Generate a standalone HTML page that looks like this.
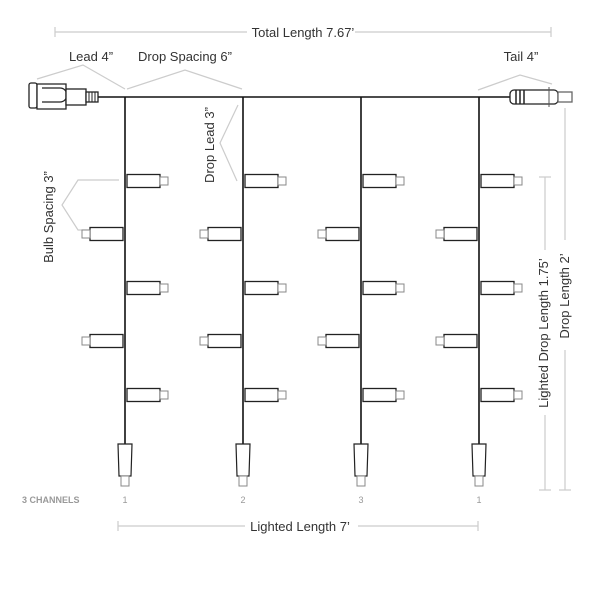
<!DOCTYPE html>
<html><head><style>body{margin:0;background:#fff}svg{display:block}</style></head><body>
<svg width="600" height="600" viewBox="0 0 600 600" xmlns="http://www.w3.org/2000/svg" font-family="Liberation Sans, sans-serif">
<defs>
<g id="br"><rect x="2" y="-6.5" width="33" height="13" fill="#fff" stroke="#222" stroke-width="1.3"/><rect x="35" y="-4" width="8" height="8" fill="#fff" stroke="#888" stroke-width="1"/></g>
<g id="bl"><rect x="-35" y="-6.5" width="33" height="13" fill="#fff" stroke="#222" stroke-width="1.3"/><rect x="-43" y="-4" width="8" height="8" fill="#fff" stroke="#888" stroke-width="1"/></g>
<g id="drop">
<line x1="0" y1="97" x2="0" y2="444" stroke="#111" stroke-width="1.6"/>
<use href="#br" y="181"/><use href="#bl" y="234"/><use href="#br" y="288"/><use href="#bl" y="341"/><use href="#br" y="395"/>
<path d="M-7 444 H7 L6 476 H-6 Z" fill="#fff" stroke="#222" stroke-width="1.2"/>
<rect x="-4" y="476" width="8" height="10" fill="#fff" stroke="#888"/>
</g>
</defs>
<g stroke="#ccc" stroke-width="1.2" fill="none">
<line x1="55" y1="32" x2="247" y2="32"/><line x1="355" y1="32" x2="551" y2="32"/>
<line x1="55" y1="27" x2="55" y2="37"/><line x1="551" y1="27" x2="551" y2="37"/>
<polyline points="37,79 83,65 125,89"/>
<polyline points="127,89 185,70 242,89"/>
<polyline points="478,90 520,75 552,84"/>
<polyline points="238,105 220,143 237,181"/>
<polyline points="119,180 78,180 62,205 78,230 119,230"/>
<line x1="545" y1="177" x2="545" y2="250"/><line x1="545" y1="415" x2="545" y2="490"/>
<line x1="539" y1="177" x2="551" y2="177"/><line x1="539" y1="490" x2="551" y2="490"/>
<line x1="565" y1="108" x2="565" y2="240"/><line x1="565" y1="350" x2="565" y2="490"/>
<line x1="559" y1="490" x2="571" y2="490"/>
<line x1="118" y1="526" x2="245" y2="526"/><line x1="358" y1="526" x2="478" y2="526"/>
<line x1="118" y1="521" x2="118" y2="531"/><line x1="478" y1="521" x2="478" y2="531"/>
</g>
<line x1="98" y1="97" x2="512" y2="97" stroke="#111" stroke-width="1.6"/>
<use href="#drop" x="125"/><use href="#drop" x="243"/><use href="#drop" x="361"/><use href="#drop" x="479"/>
<!-- left plug -->
<g fill="#fff" stroke="#222" stroke-width="1.3">
<rect x="29" y="83" width="8" height="25" rx="2"/>
<path d="M37 85 H66 V110 H37 Z" transform="translate(0,-1)"/>
<path d="M42 88 H60 A7 7 0 0 1 60 102 H42" fill="none"/>
<rect x="66" y="89" width="20" height="16"/>
<rect x="86" y="92" width="12" height="10"/>
</g>
<g stroke="#222" stroke-width="1"><line x1="89" y1="92" x2="89" y2="102"/><line x1="92" y1="92" x2="92" y2="102"/><line x1="95" y1="92" x2="95" y2="102"/></g>
<!-- right plug -->
<g fill="#fff" stroke="#222" stroke-width="1.3">
<rect x="510" y="90" width="48" height="14" rx="4"/>
<rect x="558" y="92" width="14" height="10" stroke="#666"/>
</g>
<g stroke="#222" stroke-width="1.5"><line x1="516" y1="90" x2="516" y2="104"/><line x1="520" y1="90" x2="520" y2="104"/><line x1="524" y1="90" x2="524" y2="104"/></g>
<line x1="549" y1="87" x2="549" y2="107" stroke="#555"/>
<g fill="#333" font-size="13">
<text x="303" y="37" text-anchor="middle">Total Length 7.67’</text>
<text x="91" y="61" text-anchor="middle">Lead 4”</text>
<text x="185" y="61" text-anchor="middle">Drop Spacing 6”</text>
<text x="521" y="61" text-anchor="middle">Tail 4”</text>
<text transform="translate(214,145) rotate(-90)" text-anchor="middle">Drop Lead 3”</text>
<text transform="translate(53,217) rotate(-90)" text-anchor="middle">Bulb Spacing 3”</text>
<text transform="translate(548,333) rotate(-90)" text-anchor="middle">Lighted Drop Length 1.75’</text>
<text transform="translate(569,296) rotate(-90)" text-anchor="middle">Drop Length 2’</text>
<text x="300" y="531" text-anchor="middle">Lighted Length 7’</text>
</g>
<g fill="#999" font-size="9">
<text x="22" y="503" font-weight="bold">3 CHANNELS</text>
<text x="125" y="503" text-anchor="middle">1</text>
<text x="243" y="503" text-anchor="middle">2</text>
<text x="361" y="503" text-anchor="middle">3</text>
<text x="479" y="503" text-anchor="middle">1</text>
</g>
</svg>
</body></html>
